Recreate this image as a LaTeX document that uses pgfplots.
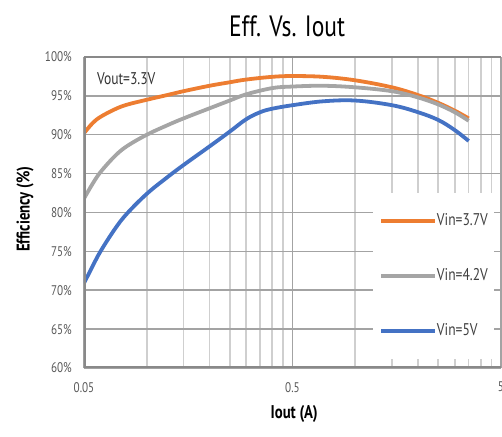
\documentclass[border=0pt]{standalone}
\usepackage{pgfplots}
\pgfplotsset{compat=1.18}
\usepackage{fontspec}
\setmainfont{PT Sans}[FakeStretch=0.8]
\definecolor{corange}{HTML}{ED7D31}
\definecolor{cgray}{HTML}{A5A5A5}
\definecolor{cblue}{HTML}{4472C4}
\definecolor{framegray}{HTML}{898989}
\definecolor{hgrid}{HTML}{A3A3A3}
\definecolor{vgrid}{HTML}{CFCFCF}
\definecolor{tickgray}{HTML}{595959}
\begin{document}
\begin{tikzpicture}
\begin{axis}[
  at={(84bp,69bp)}, anchor=south west,
  scale only axis, width=417bp, height=311bp,
  xmode=log, log basis x=10,
  xmin=0.05, xmax=5, ymin=60, ymax=100,
  xtick={0.05,0.5,5}, xticklabels={0.05,0.5,5},
  minor xtick={0.1,0.15,0.2,0.25,0.3,0.35,0.4,0.45,1,1.5,2,2.5,3,3.5,4,4.5},
  ytick={60,65,70,75,80,85,90,95,100},
  /pgf/number format/assume math mode=true,
  yticklabel={\pgfmathprintnumber{\tick}\%},
  major tick length=0pt, minor tick length=0pt,
  tick style={draw=none},
  xmajorgrids, xminorgrids, ymajorgrids,
  major x grid style={draw=hgrid, line width=1.5bp},
  major y grid style={draw=hgrid, line width=1.5bp},
  minor x grid style={draw=vgrid, line width=1.6bp},
  axis line style={draw=none},
  yticklabel style={font=\fontsize{14}{14}\selectfont, text=tickgray, inner sep=0pt, xshift=-12bp},
  xticklabel style={font=\fontsize{14}{14}\selectfont, text=tickgray, inner sep=0pt, yshift=-14bp},
  title={Eff. Vs. Iout},
  title style={at={(axis description cs:0.487,1.08)}, anchor=center, inner sep=0pt, font=\fontsize{29.5}{29.5}\selectfont},
  xlabel={Iout (A)},
  xlabel style={at={(axis description cs:0.504,-0.148)}, anchor=center, inner sep=0pt, font=\bfseries\fontsize{18.5}{18.5}\selectfont},
  ylabel={Efficiency (\%)},
  ylabel style={at={(axis description cs:-0.1415,0.511)}, rotate=0, anchor=center, inner sep=0pt, font=\bfseries\fontsize{18.5}{18.5}\selectfont},
  legend style={at={(rel axis cs:0.693,0.563)}, anchor=north west, draw=none, fill=white,
    inner xsep=6bp, inner ysep=22bp, row sep=43bp,
    font=\fontsize{17}{17}\selectfont, text=black!75,
    nodes={inner sep=0pt, text height=10bp, text depth=2bp},
    /tikz/every even column/.style={column sep=4bp}},
  legend cell align=left,
  legend image code/.code={\draw[#1] (0bp,0bp) -- (54bp,0bp);},
  every axis plot/.append style={line width=3.8bp, smooth, tension=0.6},
]
\addplot[corange] coordinates {
(0.05,90.2) (0.055,91.5) (0.06,92.3) (0.07,93.25) (0.08,93.85) (0.1,94.5) (0.125,95.1) (0.15,95.6) (0.2,96.3) (0.25,96.75) (0.3,97.1) (0.4,97.45) (0.5,97.55) (0.7,97.45) (1.0,97.0) (1.5,96.1) (2.0,95.1) (2.5,94.1) (3.0,93.1) (3.5,92.1)
};
\addlegendentry{Vin=3.7V}
\addplot[cgray] coordinates {
(0.05,81.8) (0.055,83.7) (0.06,85.2) (0.07,87.2) (0.08,88.5) (0.1,90.0) (0.125,91.2) (0.15,92.1) (0.2,93.4) (0.25,94.4) (0.3,95.2) (0.4,96.0) (0.5,96.2) (0.7,96.3) (1.0,96.1) (1.5,95.6) (2.0,94.8) (2.5,93.9) (3.0,92.9) (3.5,91.8)
};
\addlegendentry{Vin=4.2V}
\addplot[cblue] coordinates {
(0.05,70.9) (0.055,73.1) (0.06,75.0) (0.07,77.8) (0.08,79.8) (0.1,82.4) (0.125,84.5) (0.15,86.1) (0.2,88.5) (0.25,90.4) (0.3,92.0) (0.35,92.9) (0.4,93.35) (0.5,93.8) (0.7,94.3) (1.0,94.4) (1.5,93.8) (2.0,92.9) (2.5,91.9) (3.0,90.6) (3.5,89.2)
};
\addlegendentry{Vin=5V}
\draw[framegray, line width=3.2bp] (rel axis cs:0,1) -- (rel axis cs:0,0) -- (rel axis cs:1,0);
\draw[framegray, line width=2.6bp] (rel axis cs:0,1) -- (rel axis cs:1,1);
\node[anchor=west, inner sep=0pt, font=\fontsize{17}{17}\selectfont, text=black!80] at (rel axis cs:0.031,0.929) {Vout=3.3V};
\end{axis}
\pgfresetboundingbox
\useasboundingbox (0,0) rectangle (502bp,437bp);
\end{tikzpicture}
\end{document}
